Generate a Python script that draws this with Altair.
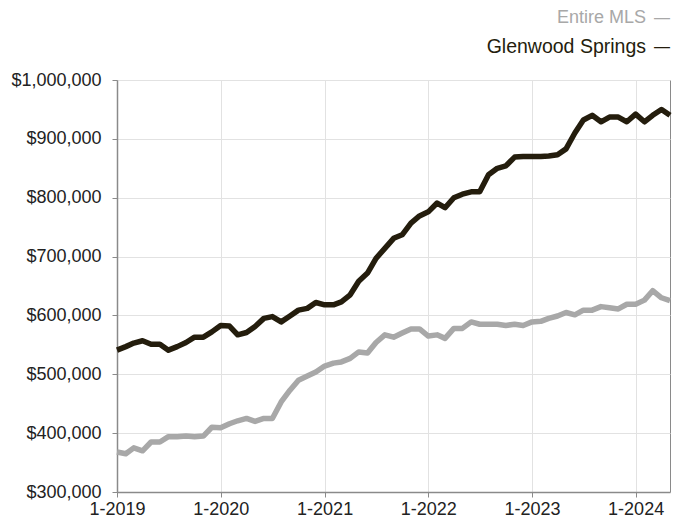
import altair as alt
import pandas as pd

series_names = ["Entire MLS", "Glenwood Springs"]
series_colors = ["#a8a8a8", "#241d0d"]

entire_mls = [368, 365, 375, 370, 385, 385, 394, 394, 395, 394, 395, 410, 409, 416, 421, 425,
              420, 425, 425, 453, 473, 490, 497, 504, 514, 519, 521, 527, 538, 536, 554, 567,
              563, 570, 577, 577, 565, 567, 561, 578, 578, 589, 585, 585, 585, 583, 585, 583,
              589, 590, 595, 599, 605, 601, 609, 609, 615, 613, 611, 619, 619, 626, 642, 630, 625]

glenwood = [541, 547, 553, 557, 551, 551, 541, 547, 554, 563, 563, 572, 583, 582, 567, 571,
            581, 595, 598, 589, 599, 609, 612, 622, 618, 618, 623, 635, 658, 672, 697, 714,
            731, 737, 757, 769, 776, 791, 783, 800, 806, 810, 810, 839, 850, 854, 869, 870,
            870, 870, 871, 873, 883, 910, 932, 940, 929, 937, 937, 929, 942, 929, 940, 950, 940]

months = list(pd.date_range("2019-01-01", "2024-05-01", freq="MS"))
tick_years = [2019, 2020, 2021, 2022, 2023, 2024]
y_ticks = [300000, 400000, 500000, 600000, 700000, 800000, 900000, 1000000]

df = pd.DataFrame({
    "date": months * 2,
    "series": [series_names[0]] * len(entire_mls) + [series_names[1]] * len(glenwood),
    "value": [v * 1000 for v in entire_mls] + [v * 1000 for v in glenwood],
})

FONT = "Liberation Sans"

lines = alt.Chart(df).mark_line(strokeWidth=5.5, strokeJoin="round", strokeCap="butt").encode(
    x=alt.X("date:T",
            scale=alt.Scale(domain=[alt.DateTime(year=2019, month=1, date=1),
                                    alt.DateTime(year=2024, month=5, date=1)]),
            axis=alt.Axis(values=[alt.DateTime(year=y, month=1, date=1) for y in tick_years],
                          format="%-m-%Y", title=None, labelPadding=3, labelFlush=False)),
    y=alt.Y("value:Q",
            scale=alt.Scale(domain=[300000, 1000000], nice=False, zero=False),
            axis=alt.Axis(values=y_ticks, format="$,.0f", title=None, labelPadding=11)),
    color=alt.Color("series:N", scale=alt.Scale(domain=series_names, range=series_colors), legend=None),
    detail="series:N",
)

def legend_entry(name, color, size, y):
    label = alt.Chart(pd.DataFrame({"t": [name]})).mark_text(
        align="right", baseline="middle", font=FONT, fontSize=size, color=color
    ).encode(text="t:N", x=alt.value(529), y=alt.value(y))
    dash = alt.Chart(pd.DataFrame({"t": ["—"]})).mark_text(
        align="left", baseline="middle", font=FONT, fontSize=16, color=color
    ).encode(text="t:N", x=alt.value(537), y=alt.value(y))
    return label + dash

legend1 = legend_entry(series_names[0], series_colors[0], 18, -62)
legend2 = legend_entry(series_names[1], series_colors[1], 19.5, -33)

chart = alt.layer(lines, legend1, legend2).properties(
    width=553, height=412,
    autosize=alt.AutoSizeParams(type="none"),
    padding={"left": 109, "top": 72, "right": 10, "bottom": 25},
).configure_view(
    stroke="#8a8a8a", strokeWidth=1
).configure_axis(
    labelFont=FONT, labelFontSize=18, labelColor="#222222",
    domainColor="#8a8a8a", domainWidth=1.5,
    tickColor="#8a8a8a", tickSize=5, tickWidth=1,
    gridColor="#e2e2e2", gridWidth=1,
)

chart.save("out.html", embed_options={"renderer": "svg", "actions": False})
